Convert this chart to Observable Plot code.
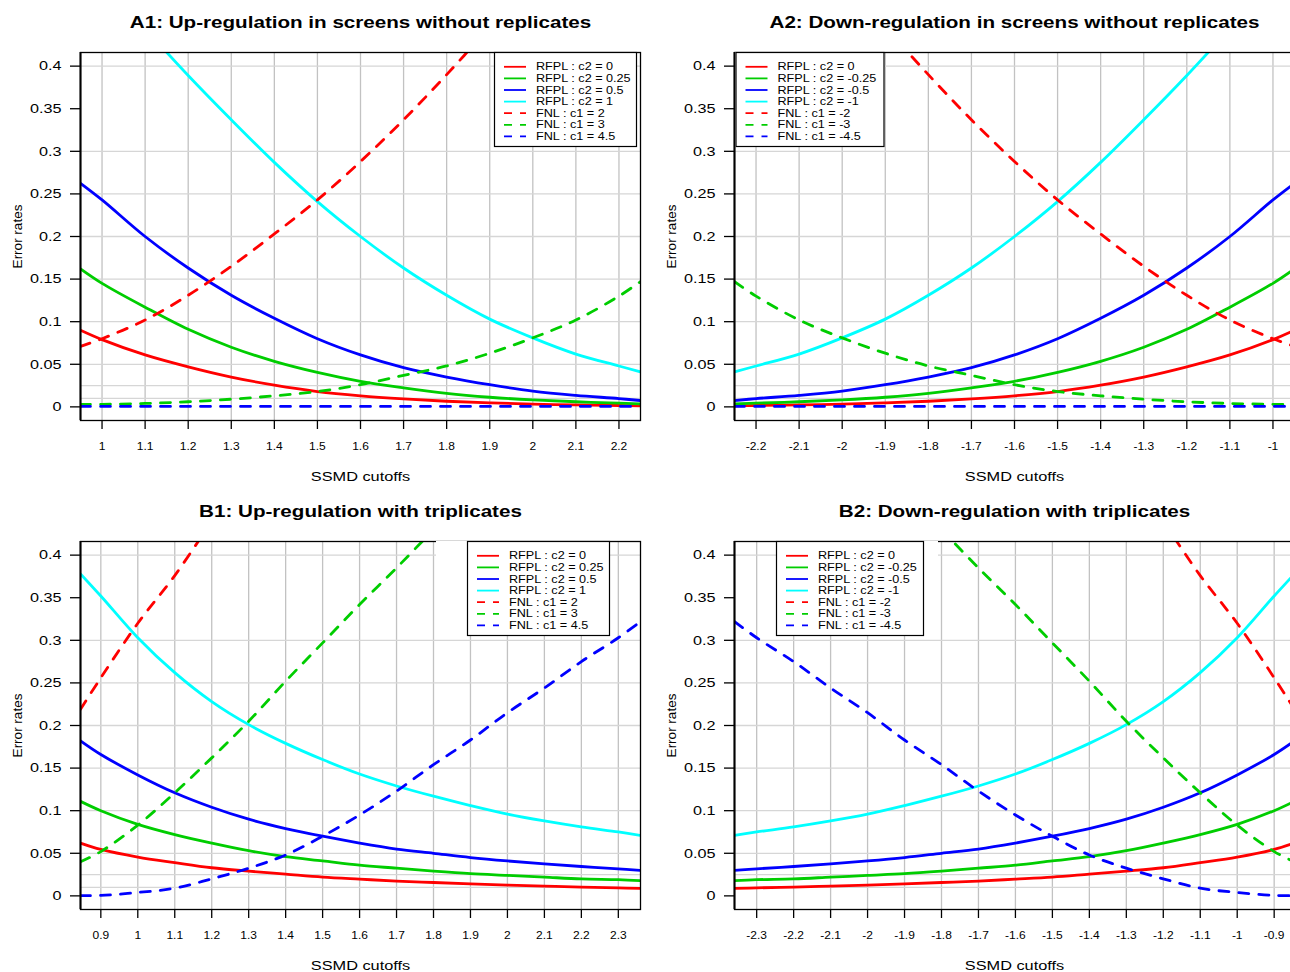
<!DOCTYPE html>
<html><head><meta charset="utf-8">
<script src="https://cdn.jsdelivr.net/npm/d3@7"></script>
<script src="https://cdn.jsdelivr.net/npm/@observablehq/plot@0.6"></script>
<style>
html,body{margin:0;padding:0;background:#fff;}
body{width:1290px;height:972px;overflow:hidden;position:relative;font-family:"Liberation Sans",Arial,sans-serif;}
.panel{position:absolute;width:645px;height:486px;}
.panel svg{position:absolute;left:0;top:0;overflow:visible;}
</style></head><body>
<div id="A1" class="panel" style="left:0;top:0"></div>
<div id="A2" class="panel" style="left:654px;top:0"></div>
<div id="B1" class="panel" style="left:0;top:489px"></div>
<div id="B2" class="panel" style="left:654px;top:489px"></div>
<script>
// ---------- data ----------
const yTicks = [0, 0.05, 0.1, 0.15, 0.2, 0.25, 0.3, 0.35, 0.4];
const yGrid = [0.01, 0.025, 0.05, 0.1, 0.15, 0.2, 0.25, 0.3, 0.4];

// A1: up-regulation, no replicates
const ticksA1 = [1, 1.1, 1.2, 1.3, 1.4, 1.5, 1.6, 1.7, 1.8, 1.9, 2, 2.1, 2.2];
const cutoffsA1 = [0.95, 1.0, 1.1, 1.2, 1.3, 1.4, 1.5, 1.6, 1.7, 1.8, 1.9, 2.0, 2.1, 2.2, 2.25];
const rfplA1_c0   = [0.090, 0.079, 0.061, 0.047, 0.035, 0.0255, 0.018, 0.013, 0.0094, 0.0066, 0.0047, 0.0032, 0.0023, 0.0016, 0.0013];
const rfplA1_c025 = [0.162, 0.145, 0.117, 0.091, 0.070, 0.0535, 0.0405, 0.030, 0.0223, 0.0158, 0.0113, 0.0082, 0.0060, 0.0043, 0.0035];
const rfplA1_c05  = [0.2625, 0.243, 0.200, 0.163, 0.131, 0.104, 0.080, 0.061, 0.046, 0.035, 0.026, 0.0185, 0.0135, 0.0097, 0.0074];
const rfplA1_c1   = [null, null, 0.444, 0.389, 0.337, 0.287, 0.241, 0.200, 0.163, 0.131, 0.103, 0.081, 0.062, 0.048, 0.041];
const fnlA1_c2    = [0.071, 0.080, 0.102, 0.131, 0.165, 0.203, 0.243, 0.288, 0.337, 0.390, 0.446, null, null, null, null];
const fnlA1_c3    = [0.003, 0.003, 0.004, 0.006, 0.009, 0.013, 0.018, 0.026, 0.037, 0.048, 0.063, 0.081, 0.102, 0.130, 0.147];
const fnlA1_c45   = [0.0005, 0.0005, 0.0005, 0.0005, 0.0005, 0.0005, 0.0005, 0.0005, 0.0005, 0.0005, 0.0005, 0.0005, 0.0005, 0.0005, 0.0005];
const labelsA1 = ["RFPL : c2 = 0", "RFPL : c2 = 0.25", "RFPL : c2 = 0.5", "RFPL : c2 = 1", "FNL : c1 = 2", "FNL : c1 = 3", "FNL : c1 = 4.5"];

// A2: down-regulation, no replicates
const ticksA2 = [-2.2, -2.1, -2, -1.9, -1.8, -1.7, -1.6, -1.5, -1.4, -1.3, -1.2, -1.1, -1];
const cutoffsA2 = [-2.25, -2.2, -2.1, -2.0, -1.9, -1.8, -1.7, -1.6, -1.5, -1.4, -1.3, -1.2, -1.1, -1.0, -0.95];
const rfplA2_c0   = [0.0013, 0.0016, 0.0023, 0.0032, 0.0047, 0.0066, 0.0094, 0.013, 0.018, 0.0255, 0.035, 0.047, 0.061, 0.079, 0.090];
const rfplA2_c025 = [0.0035, 0.0043, 0.0060, 0.0082, 0.0113, 0.0158, 0.0223, 0.030, 0.0405, 0.0535, 0.070, 0.091, 0.117, 0.145, 0.162];
const rfplA2_c05  = [0.0074, 0.0097, 0.0135, 0.0185, 0.026, 0.035, 0.046, 0.061, 0.080, 0.104, 0.131, 0.163, 0.200, 0.243, 0.2625];
const rfplA2_c1   = [0.041, 0.048, 0.062, 0.081, 0.103, 0.131, 0.163, 0.200, 0.241, 0.287, 0.337, 0.389, 0.444, null, null];
const fnlA2_c2    = [null, null, null, null, 0.446, 0.390, 0.337, 0.288, 0.243, 0.203, 0.165, 0.131, 0.102, 0.080, 0.071];
const fnlA2_c3    = [0.147, 0.130, 0.102, 0.081, 0.063, 0.048, 0.037, 0.026, 0.018, 0.013, 0.009, 0.006, 0.004, 0.003, 0.003];
const fnlA2_c45   = [0.0005, 0.0005, 0.0005, 0.0005, 0.0005, 0.0005, 0.0005, 0.0005, 0.0005, 0.0005, 0.0005, 0.0005, 0.0005, 0.0005, 0.0005];
const labelsA2 = ["RFPL : c2 = 0", "RFPL : c2 = -0.25", "RFPL : c2 = -0.5", "RFPL : c2 = -1", "FNL : c1 = -2", "FNL : c1 = -3", "FNL : c1 = -4.5"];

// B1: up-regulation with triplicates
const ticksB1 = [0.9, 1, 1.1, 1.2, 1.3, 1.4, 1.5, 1.6, 1.7, 1.8, 1.9, 2, 2.1, 2.2, 2.3];
const cutoffsB1 = [0.845, 0.9, 1.0, 1.1, 1.2, 1.3, 1.4, 1.5, 1.6, 1.7, 1.8, 1.9, 2.0, 2.1, 2.2, 2.3, 2.36];
const rfplB1_c0   = [0.062, 0.0545, 0.0455, 0.039, 0.033, 0.029, 0.0255, 0.022, 0.0196, 0.0174, 0.0157, 0.014, 0.0126, 0.0114, 0.0103, 0.0094, 0.0088];
const rfplB1_c025 = [0.111, 0.100, 0.084, 0.072, 0.062, 0.053, 0.046, 0.041, 0.036, 0.0325, 0.029, 0.026, 0.024, 0.022, 0.020, 0.019, 0.0178];
const rfplB1_c05  = [0.182, 0.166, 0.142, 0.121, 0.104, 0.090, 0.079, 0.070, 0.062, 0.055, 0.050, 0.045, 0.041, 0.0376, 0.0345, 0.0317, 0.030];
const rfplB1_c1   = [0.378, 0.352, 0.303, 0.262, 0.228, 0.201, 0.179, 0.160, 0.143, 0.129, 0.117, 0.106, 0.096, 0.088, 0.081, 0.075, 0.071];
const fnlB1_c2    = [0.219, 0.256, 0.320, 0.376, 0.440, null, null, null, null, null, null, null, null, null, null, null, null];
const fnlB1_c3    = [0.040, 0.052, 0.083, 0.121, 0.162, 0.205, 0.252, 0.297, 0.342, 0.385, 0.430, null, null, null, null, null, null];
const fnlB1_c45   = [0.0003, 0.0005, 0.004, 0.009, 0.020, 0.0325, 0.048, 0.070, 0.095, 0.123, 0.154, 0.183, 0.215, 0.244, 0.275, 0.303, 0.322];
const labelsB1 = labelsA1;

// B2: down-regulation with triplicates
const ticksB2 = [-2.3, -2.2, -2.1, -2, -1.9, -1.8, -1.7, -1.6, -1.5, -1.4, -1.3, -1.2, -1.1, -1, -0.9];
const cutoffsB2 = [-2.36, -2.3, -2.2, -2.1, -2.0, -1.9, -1.8, -1.7, -1.6, -1.5, -1.4, -1.3, -1.2, -1.1, -1.0, -0.9, -0.845];
const rfplB2_c0   = [0.0088, 0.0094, 0.0103, 0.0114, 0.0126, 0.014, 0.0157, 0.0174, 0.0196, 0.022, 0.0255, 0.029, 0.033, 0.039, 0.0455, 0.0545, 0.062];
const rfplB2_c025 = [0.0178, 0.019, 0.020, 0.022, 0.024, 0.026, 0.029, 0.0325, 0.036, 0.041, 0.046, 0.053, 0.062, 0.072, 0.084, 0.100, 0.111];
const rfplB2_c05  = [0.030, 0.0317, 0.0345, 0.0376, 0.041, 0.045, 0.050, 0.055, 0.062, 0.070, 0.079, 0.090, 0.104, 0.121, 0.142, 0.166, 0.182];
const rfplB2_c1   = [0.071, 0.075, 0.081, 0.088, 0.096, 0.106, 0.117, 0.129, 0.143, 0.160, 0.179, 0.201, 0.228, 0.262, 0.303, 0.352, 0.378];
const fnlB2_c2    = [null, null, null, null, null, null, null, null, null, null, null, null, 0.440, 0.376, 0.320, 0.256, 0.219];
const fnlB2_c3    = [null, null, null, null, null, null, 0.430, 0.385, 0.342, 0.297, 0.252, 0.205, 0.162, 0.121, 0.083, 0.052, 0.040];
const fnlB2_c45   = [0.322, 0.303, 0.275, 0.244, 0.215, 0.183, 0.154, 0.123, 0.095, 0.070, 0.048, 0.0325, 0.020, 0.009, 0.004, 0.0005, 0.0003];
const labelsB2 = labelsA2;

// ---------- styles ----------
const seriesColors = ["#FF0000", "#00CD00", "#0000FF", "#00FFFF", "#FF0000", "#00CD00", "#0000FF"];
const seriesDashed = [false, false, false, false, true, true, true];
const FONT = "'Liberation Sans', Arial, Helvetica, sans-serif";
const stretchBySize = {16.5: 1.25};

function fmt(d) { return String(d); }

function buildPanel(id, cfg) {
  const el = document.getElementById(id);
  const W = 645, H = 486, mT = 52, mR = 5, mB = 66, mL = 80;
  const lineMarks = cfg.series.map((vals, k) => {
    const rows = [];
    vals.forEach((v, i) => { if (v != null) rows.push({x: cfg.cutoffs[i], y: v}); });
    return Plot.line(rows, {
      x: "x", y: "y", stroke: seriesColors[k], strokeWidth: 2.8,
      strokeDasharray: seriesDashed[k] ? "10,10" : null,
      strokeLinecap: "round", curve: "catmull-rom", clip: true
    });
  });
  const chart = Plot.plot({
    width: W, height: H, marginTop: mT, marginRight: mR, marginBottom: mB, marginLeft: mL,
    style: {fontFamily: FONT, background: "transparent", overflow: "visible", color: "#000"},
    x: {domain: cfg.domain, label: null},
    y: {domain: [-0.016, 0.416], label: null},
    marks: [
      Plot.ruleX(cfg.ticks, {stroke: "#c2c2c2", strokeWidth: 1.3}),
      Plot.ruleY(yGrid, {stroke: "#d6d6d6", strokeWidth: 1.3}),
      ...lineMarks,
      Plot.frame({stroke: "#000", strokeWidth: 1.3}),
      Plot.ruleX([cfg.domain[0]], {stroke: "#000", strokeWidth: 2}),
      Plot.axisX(cfg.ticks, {tickSize: 9, tickPadding: 13, fontSize: 10, tickFormat: fmt, label: null, stroke: "#000", strokeWidth: 1.3}),
      Plot.axisY(yTicks, {tickSize: 10, tickPadding: 9, fontSize: 13.5, tickFormat: fmt, label: null, stroke: "#000", strokeWidth: 1.3}),
      Plot.text([cfg.title], {text: d => d, frameAnchor: "top", dy: -30, lineAnchor: "middle", textAnchor: "middle", fontSize: 16.5, fontWeight: "bold", fill: "#000"}),
      Plot.text(["SSMD cutoffs"], {text: d => d, frameAnchor: "bottom", dy: 56.5, lineAnchor: "middle", textAnchor: "middle", fontSize: 13.6, fill: "#000"}),
      Plot.text(["Error rates"], {text: d => d, frameAnchor: "left", dx: -63, rotate: -90, lineAnchor: "middle", textAnchor: "middle", fontSize: 13.5, fill: "#000"})
    ]
  });
  el.appendChild(chart);
  // stretch horizontal text to match the wide font of the reference
  chart.querySelectorAll("text").forEach(t => {
    const tr = t.getAttribute("transform") || "";
    if (tr.includes("rotate")) return;
    const fs = parseFloat(getComputedStyle(t).fontSize);
    const s = stretchBySize[fs] || 1.2;
    t.setAttribute("transform", tr + ` scale(${s},1)`);
  });

  // legend overlay
  const lg = cfg.legend;
  const svg = d3.select(el).append("svg").attr("width", W).attr("height", H)
    .style("font-family", FONT);
  svg.append("rect").attr("x", lg.left - lg.extraLeft).attr("y", 52)
    .attr("width", lg.width + lg.extraLeft + lg.extraRight).attr("height", 95).attr("fill", "#fff");
  svg.append("rect").attr("x", lg.left + 0.5).attr("y", 52.5)
    .attr("width", lg.width).attr("height", 94).attr("fill", "#fff").attr("stroke", "#000").attr("stroke-width", 1.2);
  cfg.labels.forEach((lab, i) => {
    const y = 66.8 + i * 11.6;
    svg.append("line").attr("x1", lg.left + 10).attr("x2", lg.left + 32).attr("y1", y).attr("y2", y)
      .attr("stroke", seriesColors[i]).attr("stroke-width", 1.8)
      .attr("stroke-dasharray", seriesDashed[i] ? "8,8" : null);
    svg.append("text").attr("transform", `translate(${lg.left + 42},${y}) scale(1.24,1)`)
      .attr("dy", "0.36em").attr("font-size", 10.2).attr("fill", "#000").text(lab);
  });
}

buildPanel("A1", {
  title: "A1: Up-regulation in screens without replicates",
  domain: [0.95, 2.25], ticks: ticksA1, cutoffs: cutoffsA1,
  series: [rfplA1_c0, rfplA1_c025, rfplA1_c05, rfplA1_c1, fnlA1_c2, fnlA1_c3, fnlA1_c45],
  labels: labelsA1, legend: {left: 494, width: 142, extraLeft: 0, extraRight: 0}
});
buildPanel("A2", {
  title: "A2: Down-regulation in screens without replicates",
  domain: [-2.25, -0.95], ticks: ticksA2, cutoffs: cutoffsA2,
  series: [rfplA2_c0, rfplA2_c025, rfplA2_c05, rfplA2_c1, fnlA2_c2, fnlA2_c3, fnlA2_c45],
  labels: labelsA2, legend: {left: 81.5, width: 148, extraLeft: 0, extraRight: 0}
});
buildPanel("B1", {
  title: "B1: Up-regulation with triplicates",
  domain: [0.845, 2.36], ticks: ticksB1, cutoffs: cutoffsB1,
  series: [rfplB1_c0, rfplB1_c025, rfplB1_c05, rfplB1_c1, fnlB1_c2, fnlB1_c3, fnlB1_c45],
  labels: labelsB1, legend: {left: 467, width: 142, extraLeft: 31, extraRight: 0}
});
buildPanel("B2", {
  title: "B2: Down-regulation with triplicates",
  domain: [-2.36, -0.845], ticks: ticksB2, cutoffs: cutoffsB2,
  series: [rfplB2_c0, rfplB2_c025, rfplB2_c05, rfplB2_c1, fnlB2_c2, fnlB2_c3, fnlB2_c45],
  labels: labelsB2, legend: {left: 122, width: 147, extraLeft: 0, extraRight: 15}
});
</script>
</body></html>
